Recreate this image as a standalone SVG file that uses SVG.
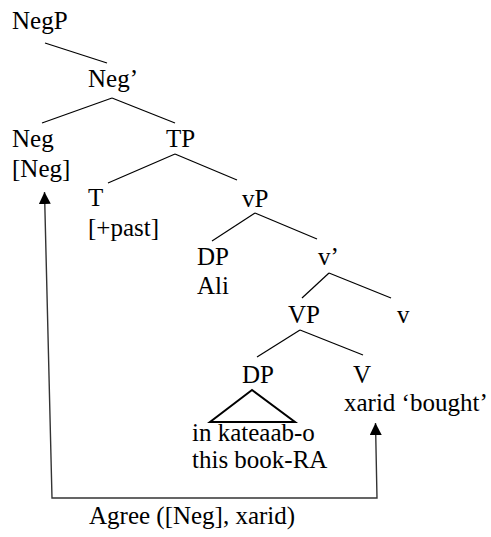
<svg xmlns="http://www.w3.org/2000/svg" width="491" height="537" viewBox="0 0 491 537">
  <style>
    text { font-family: "Liberation Serif", "Times New Roman", serif; font-size: 25px; fill: #000; }
    .branch { stroke: #000; stroke-width: 1.2; fill: none; }
    .tri { stroke: #000; stroke-width: 2; fill: none; }
    .agree { stroke: #333; stroke-width: 1.4; fill: none; }
  </style>
  <defs>
    <marker id="head" viewBox="0 0 12 12" refX="12" refY="6" markerWidth="12" markerHeight="12" markerUnits="userSpaceOnUse" orient="auto-start-reverse">
      <path d="M0,0 L12,6 L0,12 Z" fill="#000"/>
    </marker>
  </defs>

  <rect width="491" height="537" fill="#fff"/>

  <!-- tree branches and the Agree relation -->
  <g id="connectors">
    <line class="branch" x1="45" y1="43" x2="107" y2="63"/>
    <line class="branch" x1="112" y1="98" x2="42" y2="123"/>
    <line class="branch" x1="112" y1="98" x2="175" y2="123"/>
    <line class="branch" x1="175" y1="154" x2="108" y2="183"/>
    <line class="branch" x1="175" y1="154" x2="237" y2="180"/>
    <line class="branch" x1="255" y1="213" x2="212" y2="241"/>
    <line class="branch" x1="255" y1="213" x2="317" y2="239"/>
    <line class="branch" x1="329" y1="273" x2="302" y2="298"/>
    <line class="branch" x1="329" y1="273" x2="391" y2="298"/>
    <line class="branch" x1="300" y1="330" x2="257" y2="357"/>
    <line class="branch" x1="300" y1="330" x2="363" y2="355"/>
    <path class="agree" d="M44.5,192 L52,498 L377,498 L375.5,423" marker-start="url(#head)" marker-end="url(#head)"/>
  </g>

  <g id="NegP"><text x="12" y="29">NegP</text></g>
  <g id="NegBar"><text x="88" y="87">Neg’</text></g>
  <g id="Neg"><text x="12" y="147">Neg</text><text x="12" y="177">[Neg]</text></g>
  <g id="TP"><text x="166" y="147">TP</text></g>
  <g id="T"><text x="88" y="206">T</text><text x="88" y="236">[+past]</text></g>
  <g id="vP"><text x="242" y="207">vP</text></g>
  <g id="DP-subject"><text x="197" y="265">DP</text><text x="197" y="294">Ali</text></g>
  <g id="vBar"><text x="318" y="265">v’</text></g>
  <g id="VP"><text x="288" y="323">VP</text></g>
  <g id="v"><text x="397" y="323">v</text></g>
  <g id="DP-object">
    <text x="242" y="383">DP</text>
    <polygon class="tri" points="252,390 210,422 295,422"/>
    <text x="192" y="441">in kateaab-o</text>
    <text x="192" y="468">this book-RA</text>
  </g>
  <g id="V"><text x="353" y="383">V</text><text x="344" y="411">xarid ‘bought’</text></g>
  <g id="Agree"><text x="89" y="524">Agree ([Neg], xarid)</text></g>
</svg>
